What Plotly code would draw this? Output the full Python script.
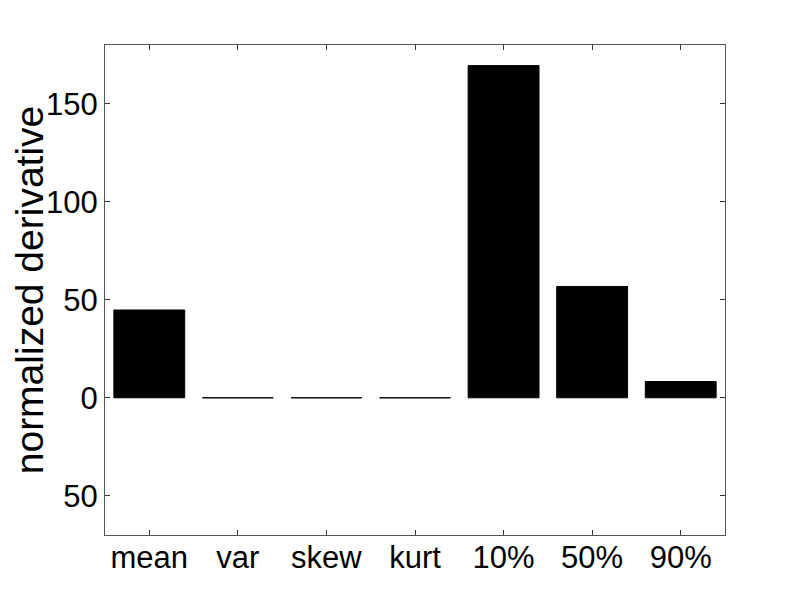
import plotly.graph_objects as go

categories = ["mean", "var", "skew", "kurt", "10%", "50%", "90%"]
values = [44.8, 0, 0, 0, 169.5, 56.8, 8.3]
ytick_vals = [-50, 0, 50, 100, 150]
ytick_text = ["50", "0", "50", "100", "150"]

x_pos = list(range(1, len(categories) + 1))

fig = go.Figure()
fig.add_trace(go.Bar(
    x=x_pos, y=values, width=0.8,
    marker=dict(color="black", line=dict(color="black", width=1)),
))

font = dict(family="Liberation Sans, Arial, sans-serif", size=31, color="black")
fig.update_layout(
    width=801, height=601,
    margin=dict(l=97, r=84, t=37, b=74),
    paper_bgcolor="white", plot_bgcolor="white",
    showlegend=False,
    font=font,
    xaxis=dict(
        range=[0.5, 7.5], tickvals=x_pos, ticktext=categories,
        ticks="inside", ticklen=5, tickcolor="#333", tickwidth=1,
        showline=True, linecolor="#555", linewidth=1, mirror="ticks",
        showgrid=False, zeroline=False, tickfont=font, automargin=False,
        ticklabelstandoff=-5,
    ),
    yaxis=dict(
        range=[-70, 180], tickvals=ytick_vals, ticktext=ytick_text,
        ticks="inside", ticklen=5, tickcolor="#333", tickwidth=1,
        showline=True, linecolor="#555", linewidth=1, mirror="ticks",
        showgrid=False, zeroline=False, tickfont=font, automargin=False,
        title=dict(text="normalized derivative", font=dict(family=font["family"], size=39, color="black"), standoff=5),
    ),
)

fig.write_html("out.html")
